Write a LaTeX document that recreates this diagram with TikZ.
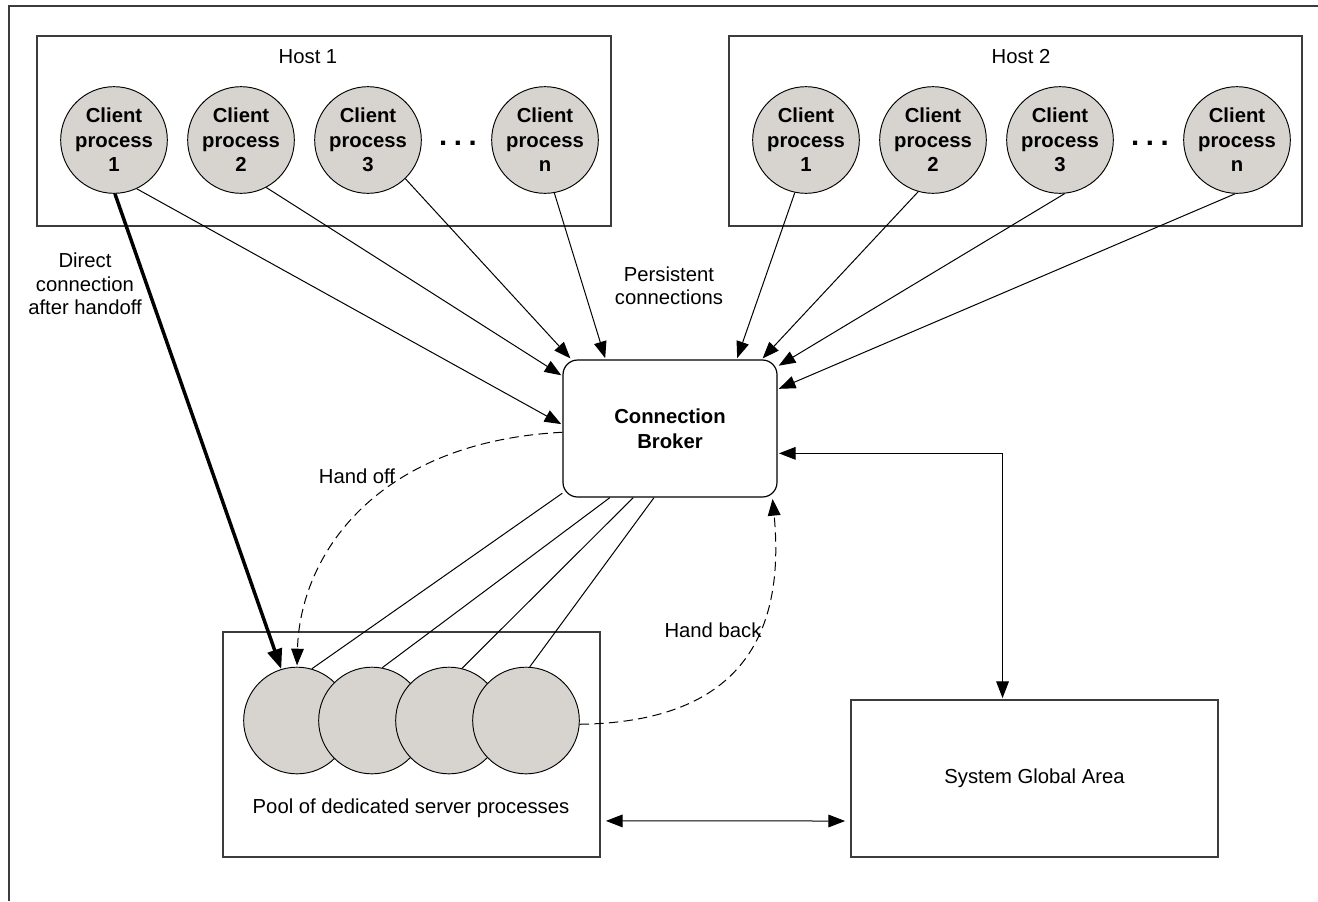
\documentclass[tikz,border=0pt]{standalone}
\usepackage{fontspec}
\setmainfont{Liberation Sans}
\usetikzlibrary{arrows.meta,positioning}
\definecolor{procgray}{RGB}{215,212,207}
\definecolor{boxgray}{RGB}{60,60,60}

\begin{document}
\begin{tikzpicture}[x=0.75pt,y=-0.75pt,
    txt/.style={font=\fontsize{15.2}{17.5}\selectfont,align=center,inner sep=0pt},
    client/.style={circle,draw,line width=0.7pt,fill=procgray,minimum size=80pt,inner sep=0pt,
      align=center,font=\fontsize{15.2}{18.4}\selectfont\bfseries},
    server/.style={circle,draw,line width=0.7pt,fill=procgray,minimum size=80pt,inner sep=0pt},
    area/.style={draw=boxgray,line width=0.9pt,inner sep=0pt},
    ellip/.style={font=\fontsize{22}{22}\selectfont\bfseries,inner sep=0pt},
    link/.style={line width=0.75pt},
    arrowed/.style={link,-{Triangle[length=12.5pt,width=9.5pt]},shorten >=1pt},
    handover/.style={arrowed,dash pattern=on 7pt off 4pt},
    both/.style={link,{Triangle[length=12.5pt,width=9.5pt]}-{Triangle[length=12.5pt,width=9.5pt]}},
  ]
  \useasboundingbox (0,0) rectangle (1318,901);
  \draw[boxgray,line width=1.1pt] (9,901) -- (9,6) -- (1318,6);

  % hosts
  \node[area,minimum width=430.5pt,minimum height=142.5pt] (host1) at (324,131) {};
  \node[area,minimum width=429.75pt,minimum height=142.5pt] (host2) at (1015.5,131) {};
  \node[txt] (host1lbl) at (308,57) {Host 1};
  \node[txt] (host2lbl) at (1021,57) {Host 2};

  \node[client] (h1c1) at (114,140) {Client\\process\\1};
  \node[client] (h1c2) at (241,140) {Client\\process\\2};
  \node[client] (h1c3) at (368,140) {Client\\process\\3};
  \node[ellip] (h1dots) at (458,143) {.\hspace{5pt}.\hspace{5pt}.};
  \node[client] (h1cn) at (545,140) {Client\\process\\n};

  \node[client] (h2c1) at (806,140) {Client\\process\\1};
  \node[client] (h2c2) at (933,140) {Client\\process\\2};
  \node[client] (h2c3) at (1060,140) {Client\\process\\3};
  \node[ellip] (h2dots) at (1150,143) {.\hspace{5pt}.\hspace{5pt}.};
  \node[client] (h2cn) at (1237,140) {Client\\process\\n};

  % broker, pool, sga
  \node[area,draw=black,rounded corners=11pt,minimum width=160.5pt,minimum height=102.75pt,
    align=center,font=\fontsize{15.2}{18.4}\selectfont\bfseries] (broker) at (670,428.5)
    {Connection\\Broker};
  \node[area,minimum width=282.75pt,minimum height=168.75pt] (pool) at (411.5,744.5) {};
  \node[txt] (poollbl) at (411,808) {Pool of dedicated server processes};
  \node[area,minimum width=275.25pt,minimum height=117.75pt,font=\fontsize{15.2}{18}\selectfont]
    (sga) at (1034.5,778.5) {System Global Area};

  \node[server] (s1) at (297,720.5) {};
  \node[server] (s2) at (372,720.5) {};
  \node[server] (s3) at (449,720.5) {};
  \node[server] (s4) at (526,720.5) {};

  % labels
  \node[txt] (directlbl) at (85,284) {Direct\\connection\\after handoff};
  \node[txt] (persistlbl) at (669,286) {Persistent\\connections};
  \node[txt] (handofflbl) at (357,476) {Hand off};
  \node[txt] (handbacklbl) at (713,630) {Hand back};

  % persistent connections
  \begin{scope}[arrowed]
    \draw (h1c1.-65) -- (broker.178);
    \draw (h1c2.-62) -- (broker.154);
    \draw (h1c3.-46) -- (broker.145);
    \draw (h1cn.-80) -- (broker.133.5);
    \draw (h2c1.-102) -- (broker.46.5);
    \draw (h2c2.-106) -- (broker.37);
    \draw (h2c3.-85) -- (broker.30);
    \draw (h2cn.-92) -- (broker.20);
  \end{scope}

  % broker to pool
  \begin{scope}[link]
    \draw (broker.211) -- (s1.74);
    \draw (broker.229) -- (s2.79);
    \draw (broker.242) -- (s3.76);
    \draw (broker.257.5) -- (s4.86);
  \end{scope}

  \draw[line width=2.6pt,-{Triangle[length=15pt,width=11pt]}] (h1c1.-89) -- (s1.107);
  \draw[handover] (broker.182) .. controls (375,442) and (300,556) .. (s1.north);
  \draw[handover] (s4.-4) .. controls (745,722) and (785,630) .. (broker.-34);

  \draw[both,shorten <=1pt,shorten >=1pt] (broker.-13.4) -| (sga.112.5);
  \draw[both,shorten <=4pt,shorten >=4pt] (pool.-22.6) -- (sga.193.6);
\end{tikzpicture}
\end{document}
